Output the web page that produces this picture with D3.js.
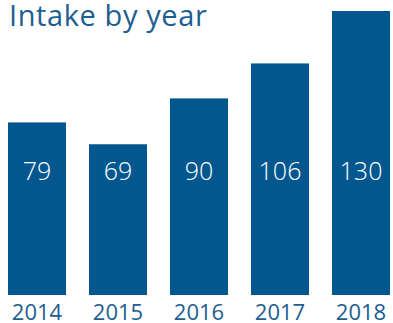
<!DOCTYPE html>
<html>
<head>
<meta charset="utf-8">
<script src="https://cdn.jsdelivr.net/npm/d3@7"></script>
<style>
  body { margin: 0; background: #fff; }
  svg { display: block; }
  text { font-family: "Open Sans", Lato, sans-serif; }
</style>
</head>
<body>
<div class="chart"></div>
<script>
// intake values
const years = ['2014', '2015', '2016', '2017', '2018'];
const intake = [79, 69, 90, 106, 130];

const width = 393, height = 323;
const barColor = '#03578f';
const textColor = '#1d5e91';

const svg = d3.select('div.chart').append('svg')
    .attr('width', width)
    .attr('height', height);

const x = d3.scaleBand()
    .domain(years)
    .range([8, 390])
    .paddingInner(0.284)
    .paddingOuter(0);

const y = d3.scaleLinear()
    .domain([0, 130])
    .range([295, 11]);

svg.append('text')
    .attr('x', 9)
    .attr('y', 26)
    .attr('fill', textColor)
    .style('font-size', '29px')
    .style('font-weight', 400)
    .style('letter-spacing', '0.6px')
    .text('Intake by year');

svg.selectAll('.bar')
    .data(years)
    .enter().append('rect')
    .attr('class', 'bar')
    .attr('x', d => x(d))
    .attr('y', (d, i) => y(intake[i]))
    .attr('width', x.bandwidth())
    .attr('height', (d, i) => y(0) - y(intake[i]))
    .attr('fill', barColor);

svg.selectAll('.val')
    .data(years)
    .enter().append('text')
    .attr('class', 'val')
    .attr('x', d => x(d) + x.bandwidth() / 2)
    .attr('y', 180)
    .attr('text-anchor', 'middle')
    .attr('fill', '#fff')
    .style('font-size', '25px')
    .style('font-weight', 300)
    .text((d, i) => intake[i]);

// year labels under bars
svg.selectAll('.yr')
    .data(years)
    .enter().append('text')
    .attr('class', 'yr')
    .attr('x', d => x(d) + x.bandwidth() / 2)
    .attr('y', 320)
    .attr('text-anchor', 'middle')
    .attr('fill', textColor)
    .style('font-size', '22px')
    .style('font-weight', 400)
    .text(d => d);
</script>
</body>
</html>
